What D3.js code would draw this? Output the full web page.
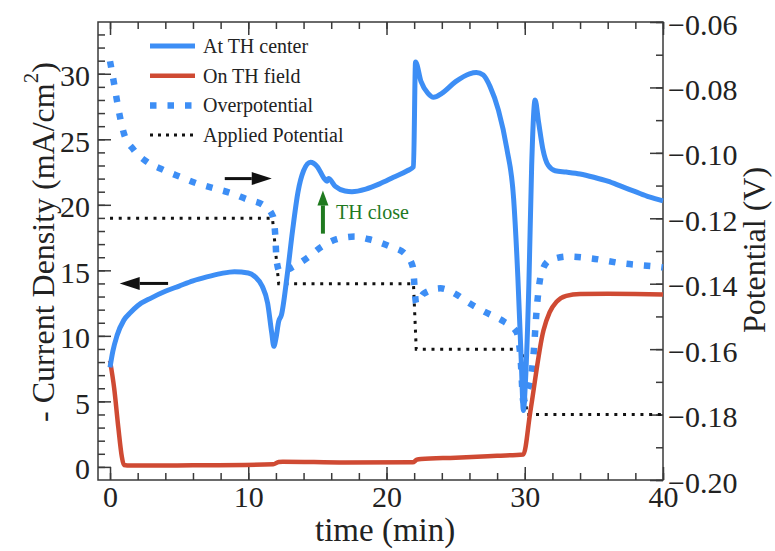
<!DOCTYPE html>
<html>
<head>
<meta charset="utf-8">
<script src="https://cdn.jsdelivr.net/npm/d3@7"></script>
<style>
  body { margin: 0; background: #fff; }
  text { font-family: "Liberation Serif", "Times New Roman", serif; }
</style>
</head>
<body>
<div id="vis"></div>
<script>
// set margin (plot frame inside the 775x551 picture)
const margin = { top: 22, right: 112, bottom: 71, left: 98 };
const width = 775 - margin.left - margin.right;
const height = 551 - margin.top - margin.bottom;

// data: [time (min), value]
const thCenter = [
  [0, 7.6], [0.2, 8.8], [0.5, 10.0], [1, 11.2], [1.5, 11.8], [2, 12.3], [3, 12.9], [4, 13.4],
  [5, 13.8], [6, 14.2], [7, 14.5], [8, 14.75], [9, 14.9], [10, 14.8], [10.5, 14.5], [11, 13.8],
  [11.4, 12.5], [11.7, 10.2], [11.85, 9.2], [12.0, 9.8], [12.2, 11.1], [12.4, 11.6], [12.8, 14.5],
  [13.2, 18.0], [13.6, 21.0], [14.0, 22.6], [14.5, 23.25], [15.0, 22.9], [15.5, 22.0], [15.7, 21.8],
  [15.8, 22.0], [16.3, 21.4], [17, 21.05], [17.5, 21.0], [18.5, 21.2], [19.5, 21.6], [20.5, 22.1],
  [21.5, 22.6], [21.95, 22.9], [22.1, 30.9], [22.5, 29.4], [23, 28.5], [23.4, 28.2], [24, 28.5],
  [25, 29.4], [26, 30.0], [26.5, 30.1], [27, 29.9], [27.5, 29.0], [28.1, 27.2], [28.7, 24.3],
  [29.2, 20.4], [29.5, 14.5], [29.75, 8.0], [29.9, 4.3], [30.05, 6.5], [30.3, 14.0], [30.5, 23.0],
  [30.75, 28.0], [31.0, 26.3], [31.3, 24.3], [31.7, 23.0], [32.2, 22.6], [33, 22.5], [34, 22.35],
  [35, 22.1], [36, 21.8], [37, 21.4], [38, 21.0], [39, 20.6], [40, 20.3]
];
const thField = [
  [0, 8.1], [0.3, 6.0], [0.6, 3.0], [0.85, 0.8], [1.0, 0.15], [1.5, 0.1], [6, 0.12], [11.8, 0.2],
  [12.2, 0.38], [12.5, 0.4], [17, 0.33], [21.9, 0.35], [22.2, 0.55], [22.5, 0.6], [25, 0.7],
  [28, 0.85], [29.9, 0.95], [30.4, 4.2], [31.35, 10.4], [31.8, 11.8], [32.3, 12.6], [33, 13.05],
  [34, 13.2], [36, 13.22], [38, 13.2], [40, 13.15]
];
const overpotential = [
  [0, -0.072], [0.3, -0.079], [0.5, -0.084], [0.72, -0.089], [1.0, -0.094], [1.7, -0.099],
  [2.65, -0.1027], [3.85, -0.1052], [5.06, -0.1073], [6.27, -0.1093], [7.48, -0.1108],
  [8.68, -0.1122], [9.9, -0.1142], [11.1, -0.116], [11.8, -0.1195], [11.95, -0.125],
  [12.05, -0.133], [12.3, -0.1365], [13.1, -0.1352], [14.3, -0.132], [15.3, -0.1287],
  [16.4, -0.1264], [17.7, -0.1256], [18.9, -0.1266], [20.3, -0.1287], [21.3, -0.1307],
  [21.9, -0.1348], [22.15, -0.146], [22.7, -0.143], [23.9, -0.1414], [25.1, -0.1434],
  [26.0, -0.146], [27.3, -0.149], [28.5, -0.1516], [29.4, -0.1547], [29.7, -0.163],
  [29.9, -0.176], [30.1, -0.174], [30.6, -0.1633], [30.9, -0.146], [31.2, -0.1368],
  [31.8, -0.1328], [33.2, -0.1317], [34.7, -0.1322], [37.1, -0.1338], [39.6, -0.1348], [40, -0.135]
];
const appliedPotential = [
  [0, -0.12], [11.75, -0.12], [12.2, -0.14], [21.95, -0.14], [22.15, -0.16],
  [29.8, -0.16], [30.15, -0.18], [40, -0.18]
];

// tick values
const xTicks = [0, 10, 20, 30, 40];
const xMinor = d3.range(0, 41, 2);
const leftTicks = [0, 5, 10, 15, 20, 25, 30];
const leftMinor = d3.range(0, 34, 1);
const rightTicks = [-0.20, -0.18, -0.16, -0.14, -0.12, -0.10, -0.08, -0.06];
const rightMinor = d3.range(-0.20, -0.055, 0.01);

const legendNames = ['At TH center', 'On TH field', 'Overpotential', 'Applied Potential'];

const blue = '#3d8ef5', red = '#cf4a33', green = '#1f7a1f', frameColor = '#3a3a3a';

const svg = d3.select('#vis')
  .append('svg')
  .attr('width', width + margin.left + margin.right)
  .attr('height', height + margin.top + margin.bottom)
  .append('g')
  .attr('transform', `translate(${margin.left},${margin.top})`);

const xScale = d3.scaleLinear().domain([-0.87, 40]).range([0, width]);
const yLeft = d3.scaleLinear().domain([-1.0, 33.95]).range([height, 0]);
const yRight = d3.scaleLinear().domain([-0.20, -0.06]).range([height, 0]);

const fmtRight = d => (d < 0 ? '\u2212' : '') + Math.abs(d).toFixed(2);

// axes: ticks point into the plot
function drawAxis(axis, transform, cls) {
  const g = svg.append('g').attr('class', cls).attr('transform', transform).call(axis);
  g.attr('font-family', null);
  g.select('.domain').remove();
  g.selectAll('line').attr('stroke', frameColor).attr('stroke-width', 1.5);
  g.selectAll('text')
    .attr('fill', '#222')
    .style('font-family', '"Liberation Serif", serif')
    .style('font-size', '30px');
  return g;
}

drawAxis(d3.axisBottom(xScale).tickValues(xMinor).tickSize(-7).tickFormat(''), `translate(0,${height})`, 'axis');
drawAxis(d3.axisBottom(xScale).tickValues(xTicks).tickSize(-13).tickPadding(6).tickFormat(d3.format('d')), `translate(0,${height})`, 'axis')
  .selectAll('text').attr('dy', '0.71em');
drawAxis(d3.axisTop(xScale).tickValues(xMinor).tickSize(-7).tickFormat(''), 'translate(0,0)', 'axis');
drawAxis(d3.axisTop(xScale).tickValues(xTicks).tickSize(-13).tickFormat(''), 'translate(0,0)', 'axis');

drawAxis(d3.axisLeft(yLeft).tickValues(leftMinor).tickSize(-7).tickFormat(''), 'translate(0,0)', 'axis');
drawAxis(d3.axisLeft(yLeft).tickValues(leftTicks).tickSize(-13).tickPadding(8).tickFormat(d3.format('d')), 'translate(0,0)', 'axis')
  .selectAll('text').attr('dy', '0.4em');

drawAxis(d3.axisRight(yRight).tickValues(rightMinor).tickSize(-7).tickFormat(''), `translate(${width},0)`, 'axis');
drawAxis(d3.axisRight(yRight).tickValues(rightTicks).tickSize(-13).tickPadding(5).tickFormat(fmtRight), `translate(${width},0)`, 'axis')
  .selectAll('text').attr('dy', '0.4em');

// frame
svg.append('rect')
  .attr('x', 0).attr('y', 0).attr('width', width).attr('height', height)
  .attr('fill', 'none').attr('stroke', frameColor).attr('stroke-width', 1.5);

// axis labels
svg.append('text')
  .attr('x', xScale(19.9))
  .attr('y', height + 61)
  .style('text-anchor', 'middle')
  .style('font-size', '33px')
  .attr('fill', '#222')
  .text('time (min)');

const yLab = svg.append('text')
  .attr('transform', `translate(${-margin.left + 54},220) rotate(-90)`)
  .style('text-anchor', 'middle')
  .style('font-size', '32px')
  .attr('fill', '#222');
yLab.append('tspan').text('- Current Density (mA/cm');
yLab.append('tspan').attr('dy', '-0.75em').style('font-size', '21px').text('2');
yLab.append('tspan').attr('dy', '0.5em').text(')');

svg.append('text')
  .attr('transform', `translate(${width + 102},228) rotate(-90)`)
  .style('text-anchor', 'middle')
  .style('font-size', '32px')
  .attr('fill', '#222')
  .text('Potential (V)');

// lines
const lineLeft = d3.line().x(d => xScale(d[0])).y(d => yLeft(d[1])).curve(d3.curveMonotoneX);
const lineRight = d3.line().x(d => xScale(d[0])).y(d => yRight(d[1])).curve(d3.curveMonotoneX);
const lineRightStep = d3.line().x(d => xScale(d[0])).y(d => yRight(d[1]));

svg.append('path').datum(appliedPotential)
  .attr('d', lineRightStep)
  .attr('fill', 'none').attr('stroke', '#111')
  .attr('stroke-width', 3).attr('stroke-dasharray', '3,5.7');

svg.append('path').datum(overpotential)
  .attr('d', lineRight)
  .attr('fill', 'none').attr('stroke', blue)
  .attr('stroke-width', 6.5).attr('stroke-dasharray', '6.5,11');

svg.append('path').datum(thField)
  .attr('d', lineLeft)
  .attr('fill', 'none').attr('stroke', red)
  .attr('stroke-width', 4.5).attr('stroke-linejoin', 'round');

svg.append('path').datum(thCenter)
  .attr('d', lineLeft)
  .attr('fill', 'none').attr('stroke', blue)
  .attr('stroke-width', 5).attr('stroke-linejoin', 'round');

// legend
const legendStyles = [
  { color: blue, w: 5, dash: null },
  { color: red, w: 4.5, dash: null },
  { color: blue, w: 6.5, dash: '6.5,11' },
  { color: '#111', w: 3, dash: '3,5' }
];
const legend = svg.append('g').attr('transform', 'translate(52,24)');
legendNames.forEach((name, i) => {
  const row = legend.append('g').attr('transform', `translate(0,${i * 29.7})`);
  row.append('line')
    .attr('x1', 0).attr('x2', 45).attr('y1', 0).attr('y2', 0)
    .attr('stroke', legendStyles[i].color)
    .attr('stroke-width', legendStyles[i].w)
    .attr('stroke-dasharray', legendStyles[i].dash);
  row.append('text')
    .attr('x', 53).attr('y', 7)
    .style('font-size', '20px')
    .attr('fill', '#222')
    .text(name);
});

// annotation arrows
function arrow(x1, y1, x2, y2, color, shaft, headLen, headW) {
  const ang = Math.atan2(y2 - y1, x2 - x1);
  const bx = x2 - headLen * Math.cos(ang), by = y2 - headLen * Math.sin(ang);
  svg.append('line')
    .attr('x1', x1).attr('y1', y1).attr('x2', bx).attr('y2', by)
    .attr('stroke', color).attr('stroke-width', shaft);
  const px = -Math.sin(ang) * headW / 2, py = Math.cos(ang) * headW / 2;
  svg.append('path')
    .attr('d', `M${x2},${y2}L${bx + px},${by + py}L${bx - px},${by - py}Z`)
    .attr('fill', color);
}
arrow(xScale(4.2), yLeft(14.0), xScale(0.7), yLeft(14.0), '#111', 3, 20, 13);
arrow(xScale(8.3), yLeft(22.0), xScale(11.7), yLeft(22.0), '#111', 3, 20, 13);
arrow(xScale(15.4), yLeft(17.8), xScale(15.4), yLeft(21.1), green, 4, 15, 11);

svg.append('text')
  .attr('x', xScale(16.35)).attr('y', yLeft(18.95))
  .style('font-size', '20px')
  .attr('fill', green)
  .text('TH close');
</script>
</body>
</html>
